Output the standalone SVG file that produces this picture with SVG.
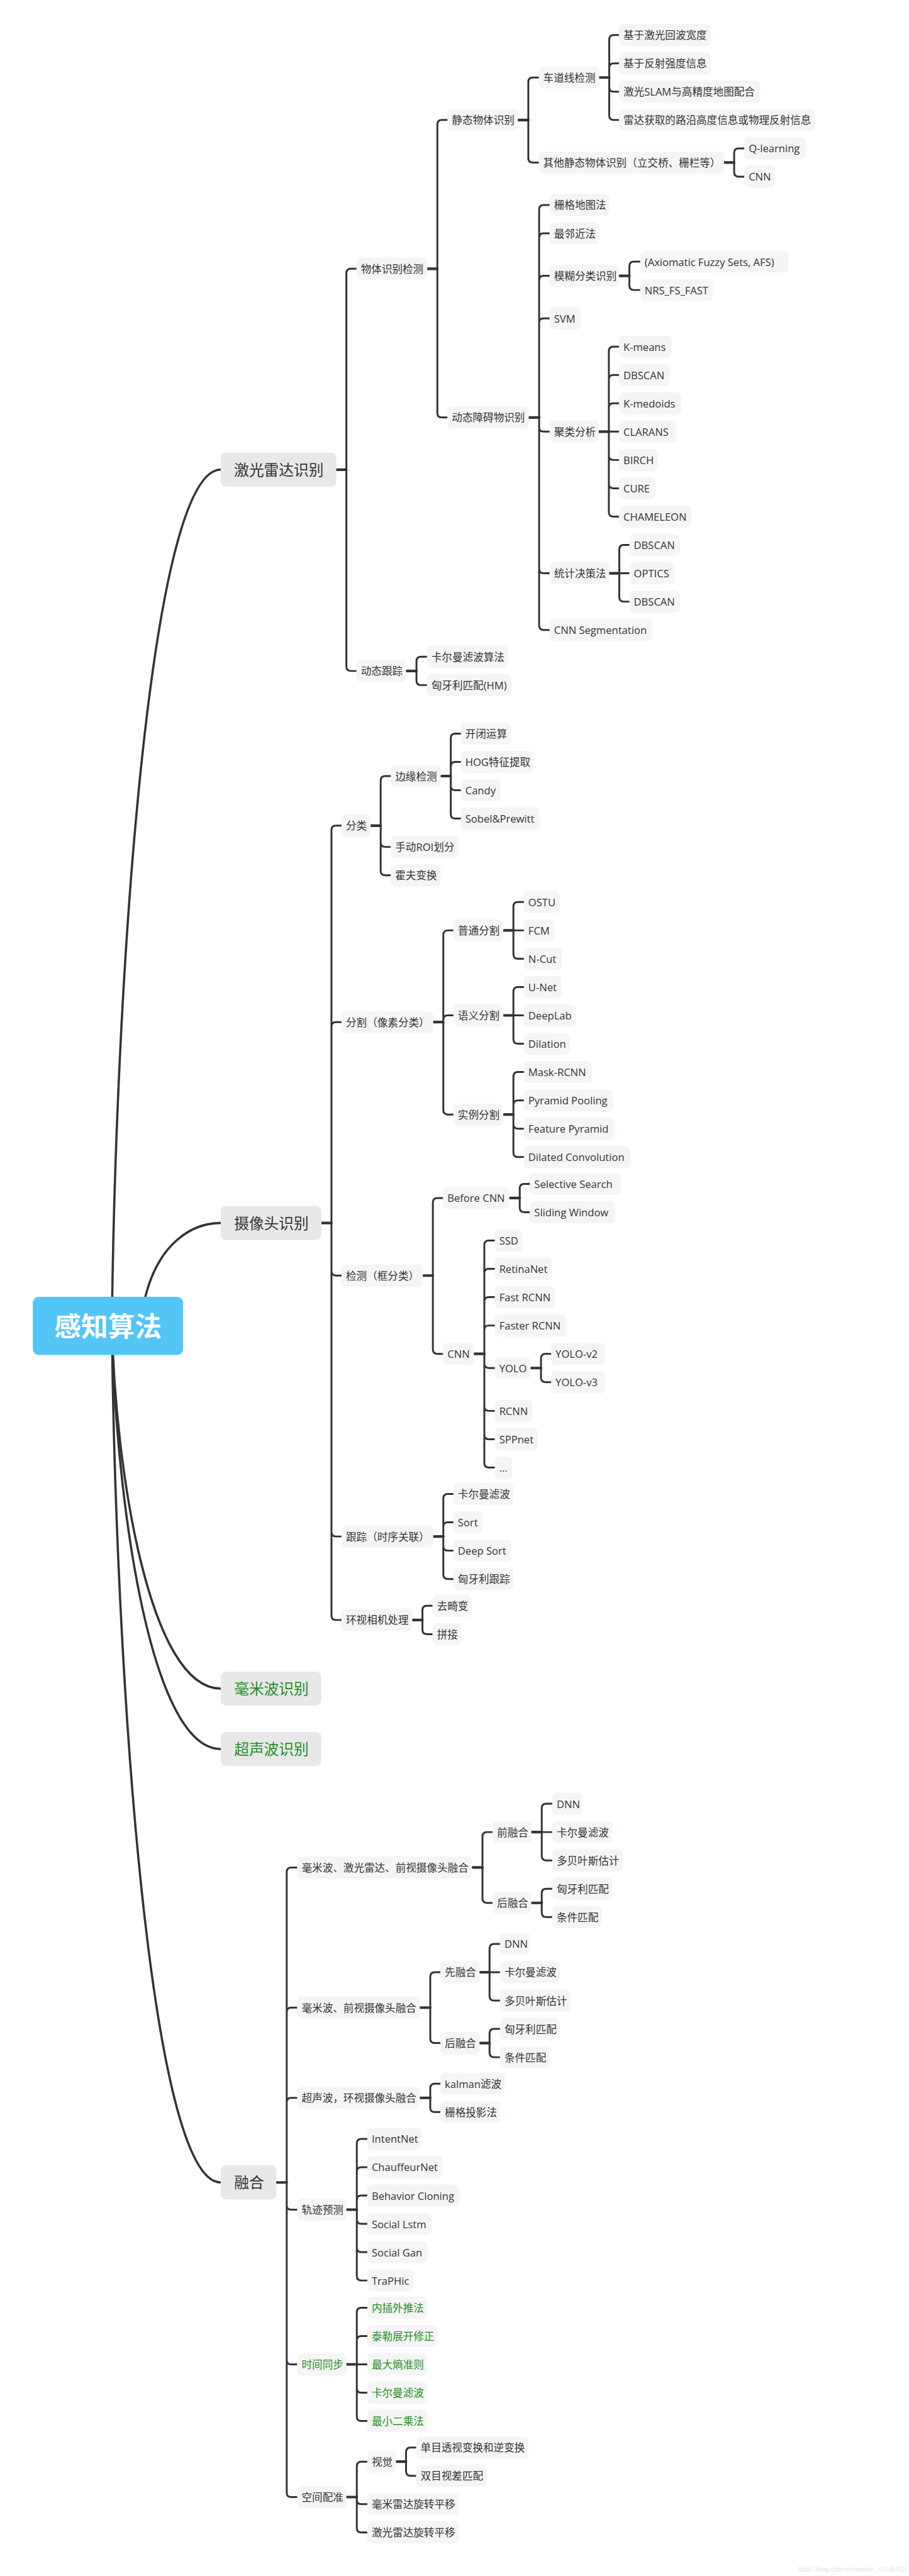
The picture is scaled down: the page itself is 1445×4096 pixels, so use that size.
<svg xmlns="http://www.w3.org/2000/svg" width="1445" height="4096" viewBox="0 0 1445 4096">
<style>
text{font-family:"Open Sans","Noto Sans CJK SC",sans-serif;dominant-baseline:central;fill:#333;font-size:28px}
.n rect{fill:#f5f5f5}
.L rect{fill:#e8e8e8}
.L text{font-size:40px}
.g text{fill:#1f8f1f}
.c path{fill:none;stroke:#333;stroke-width:5;stroke-linecap:round;stroke-linejoin:round}
.c path.s{stroke-width:7}
.c path.r{stroke-width:6}
</style>
<rect width="1445" height="4096" fill="#fff"/>
<g transform="scale(0.5927)">
<g id="connectors" class="c">
<path class="r" d="M300 3557C310 2638 400 1260 592 1260"/>
<path class="r" d="M385 3500C420 3330 520 3281 592 3281"/>
<path class="r" d="M300 3557C310 3946 400 4530 592 4530"/>
<path class="r" d="M300 3557C310 4011 400 4692 592 4692"/>
<path class="r" d="M300 3557C310 4476 400 5855 592 5855"/>
<path d="M929 1260V733Q929 721 941 721H956M929 1260V1788Q929 1800 941 1800H956"/>
<path d="M1173 721V334Q1173 322 1185 322H1200M1173 721V1108Q1173 1120 1185 1120H1200"/>
<path d="M1417 322V220Q1417 208 1429 208H1445M1417 322V424Q1417 436 1429 436H1445"/>
<path d="M1634 208V106Q1634 94 1646 94H1660M1634 208V182Q1634 170 1646 170H1660M1634 208V234Q1634 246 1646 246H1660M1634 208V310Q1634 322 1646 322H1660"/>
<path d="M1969 436V410Q1969 398 1981 398H1996M1969 436V462Q1969 474 1981 474H1996"/>
<path d="M1446 1120V562Q1446 550 1458 550H1474M1446 1120V638Q1446 626 1458 626H1474M1446 1120V752Q1446 740 1458 740H1474M1446 1120V866Q1446 854 1458 854H1474M1446 1120V1146Q1446 1158 1458 1158H1474M1446 1120V1526Q1446 1538 1458 1538H1474M1446 1120V1678Q1446 1690 1458 1690H1474"/>
<path d="M1688 740V714Q1688 702 1700 702H1717M1688 740V766Q1688 778 1700 778H1717"/>
<path d="M1633 1158H1660M1633 1158V942Q1633 930 1645 930H1660M1633 1158V1018Q1633 1006 1645 1006H1660M1633 1158V1094Q1633 1082 1645 1082H1660M1633 1158V1222Q1633 1234 1645 1234H1660M1633 1158V1298Q1633 1310 1645 1310H1660M1633 1158V1374Q1633 1386 1645 1386H1660"/>
<path d="M1661 1538H1688M1661 1538V1474Q1661 1462 1673 1462H1688M1661 1538V1602Q1661 1614 1673 1614H1688"/>
<path d="M1117 1800V1774Q1117 1762 1129 1762H1145M1117 1800V1826Q1117 1838 1129 1838H1145"/>
<path d="M889 3281V2227Q889 2215 901 2215H916M889 3281V2754Q889 2742 901 2742H916M889 3281V3410Q889 3422 901 3422H916M889 3281V4110Q889 4122 901 4122H916M889 3281V4334Q889 4346 901 4346H916"/>
<path d="M1021 2215V2094Q1021 2082 1033 2082H1048M1021 2215V2260Q1021 2272 1033 2272H1048M1021 2215V2336Q1021 2348 1033 2348H1048"/>
<path d="M1209 2082V1980Q1209 1968 1221 1968H1236M1209 2082V2056Q1209 2044 1221 2044H1236M1209 2082V2108Q1209 2120 1221 2120H1236M1209 2082V2184Q1209 2196 1221 2196H1236"/>
<path d="M1189 2742V2508Q1189 2496 1201 2496H1216M1189 2742V2736Q1189 2724 1201 2724H1216M1189 2742V2978Q1189 2990 1201 2990H1216"/>
<path d="M1377 2496H1405M1377 2496V2432Q1377 2420 1389 2420H1405M1377 2496V2560Q1377 2572 1389 2572H1405"/>
<path d="M1377 2724H1405M1377 2724V2660Q1377 2648 1389 2648H1405M1377 2724V2788Q1377 2800 1389 2800H1405"/>
<path d="M1377 2990V2888Q1377 2876 1389 2876H1405M1377 2990V2964Q1377 2952 1389 2952H1405M1377 2990V3016Q1377 3028 1389 3028H1405M1377 2990V3092Q1377 3104 1389 3104H1405"/>
<path d="M1161 3422V3226Q1161 3214 1173 3214H1188M1161 3422V3620Q1161 3632 1173 3632H1188"/>
<path d="M1394 3214V3188Q1394 3176 1406 3176H1421M1394 3214V3240Q1394 3252 1406 3252H1421"/>
<path d="M1299 3632V3340Q1299 3328 1311 3328H1327M1299 3632V3416Q1299 3404 1311 3404H1327M1299 3632V3492Q1299 3480 1311 3480H1327M1299 3632V3568Q1299 3556 1311 3556H1327M1299 3632V3658Q1299 3670 1311 3670H1327M1299 3632V3773Q1299 3785 1311 3785H1327M1299 3632V3849Q1299 3861 1311 3861H1327M1299 3632V3925Q1299 3937 1311 3937H1327"/>
<path d="M1451 3670V3644Q1451 3632 1463 3632H1478M1451 3670V3696Q1451 3708 1463 3708H1478"/>
<path d="M1189 4122V4020Q1189 4008 1201 4008H1216M1189 4122V4096Q1189 4084 1201 4084H1216M1189 4122V4148Q1189 4160 1201 4160H1216M1189 4122V4224Q1189 4236 1201 4236H1216"/>
<path d="M1133 4346V4320Q1133 4308 1145 4308H1160M1133 4346V4372Q1133 4384 1145 4384H1160"/>
<path d="M769 5855V5022Q769 5010 781 5010H797M769 5855V5398Q769 5386 781 5386H797M769 5855V5640Q769 5628 781 5628H797M769 5855V5916Q769 5928 781 5928H797M769 5855V6331Q769 6343 781 6343H797M769 5855V6687Q769 6699 781 6699H797"/>
<path d="M1294 5010V4927Q1294 4915 1306 4915H1321M1294 5010V5093Q1294 5105 1306 5105H1321"/>
<path d="M1453 4915H1481M1453 4915V4851Q1453 4839 1465 4839H1481M1453 4915V4979Q1453 4991 1465 4991H1481"/>
<path d="M1453 5105V5079Q1453 5067 1465 5067H1481M1453 5105V5131Q1453 5143 1465 5143H1481"/>
<path d="M1154 5386V5303Q1154 5291 1166 5291H1181M1154 5386V5469Q1154 5481 1166 5481H1181"/>
<path d="M1313 5291H1341M1313 5291V5227Q1313 5215 1325 5215H1341M1313 5291V5355Q1313 5367 1325 5367H1341"/>
<path d="M1313 5481V5455Q1313 5443 1325 5443H1341M1313 5481V5507Q1313 5519 1325 5519H1341"/>
<path d="M1154 5628V5602Q1154 5590 1166 5590H1181M1154 5628V5654Q1154 5666 1166 5666H1181"/>
<path d="M957 5928V5750Q957 5738 969 5738H985M957 5928V5826Q957 5814 969 5814H985M957 5928V5902Q957 5890 969 5890H985M957 5928V5954Q957 5966 969 5966H985M957 5928V6030Q957 6042 969 6042H985M957 5928V6106Q957 6118 969 6118H985"/>
<path d="M957 6343H985M957 6343V6203Q957 6191 969 6191H985M957 6343V6279Q957 6267 969 6267H985M957 6343V6407Q957 6419 969 6419H985M957 6343V6483Q957 6495 969 6495H985"/>
<path d="M957 6699V6616Q957 6604 969 6604H985M957 6699V6706Q957 6718 969 6718H985M957 6699V6782Q957 6794 969 6794H985"/>
<path d="M1089 6604V6578Q1089 6566 1101 6566H1116M1089 6604V6630Q1089 6642 1101 6642H1116"/>
<path class="s" d="M902 1260H929M1146 721H1173M1389 322H1417M1607 208H1634M1942 436H1969M1418 1120H1446M1660 740H1688M1606 1158H1633M1634 1538H1661M1089 1800H1117M862 3281H889M994 2215H1021M1182 2082H1209M1162 2742H1189M1350 2496H1377M1350 2724H1377M1350 2990H1377M1134 3422H1161M1366 3214H1394M1271 3632H1299M1423 3670H1451M1162 4122H1189M1106 4346H1133M741 5855H769M1266 5010H1294M1425 4915H1453M1425 5105H1453M1126 5386H1154M1286 5291H1313M1286 5481H1313M1126 5628H1154M929 5928H957M929 6343H957M929 6699H957M1062 6604H1089"/>
</g>
<g id="root"><rect x="88" y="3479" width="403" height="156" rx="16" fill="#53c5f7"/><text x="289.5" y="3557" text-anchor="middle" style="font-size:72px;font-weight:700;fill:#fff">感知算法</text></g>
<g id="n-lidar" class="L"><rect x="592" y="1214.5" width="310" height="91" rx="14"/><text x="628" y="1260">激光雷达识别</text></g>
<g id="n-camera" class="L"><rect x="592" y="3235.5" width="270" height="91" rx="14"/><text x="628" y="3281">摄像头识别</text></g>
<g id="n-mmwave" class="L g"><rect x="592" y="4484.5" width="270" height="91" rx="14"/><text x="628" y="4530">毫米波识别</text></g>
<g id="n-ultra" class="L g"><rect x="592" y="4646.5" width="270" height="91" rx="14"/><text x="628" y="4692">超声波识别</text></g>
<g id="n-fusion" class="L"><rect x="592" y="5809.5" width="149" height="91" rx="14"/><text x="628" y="5855">融合</text></g>
<g id="n-a1" class="n"><rect x="956" y="691.5" width="190" height="59" rx="12"/><text x="968" y="721">物体识别检测</text></g>
<g id="n-a2" class="n"><rect x="956" y="1770.5" width="133" height="59" rx="12"/><text x="968" y="1800">动态跟踪</text></g>
<g id="n-a11" class="n"><rect x="1200" y="292.5" width="189" height="59" rx="12"/><text x="1212" y="322">静态物体识别</text></g>
<g id="n-a12" class="n"><rect x="1200" y="1090.5" width="218" height="59" rx="12"/><text x="1212" y="1120">动态障碍物识别</text></g>
<g id="n-a111" class="n"><rect x="1445" y="178.5" width="162" height="59" rx="12"/><text x="1457" y="208">车道线检测</text></g>
<g id="n-a112" class="n"><rect x="1445" y="406.5" width="497" height="59" rx="12"/><text x="1457" y="436">其他静态物体识别（立交桥、栅栏等）</text></g>
<g id="n-a1111" class="n"><rect x="1660" y="64.5" width="246" height="59" rx="12"/><text x="1672" y="94">基于激光回波宽度</text></g>
<g id="n-a1112" class="n"><rect x="1660" y="140.5" width="246" height="59" rx="12"/><text x="1672" y="170">基于反射强度信息</text></g>
<g id="n-a1113" class="n"><rect x="1660" y="216.5" width="379" height="59" rx="12"/><text x="1672" y="246">激光SLAM与高精度地图配合</text></g>
<g id="n-a1114" class="n"><rect x="1660" y="292.5" width="525" height="59" rx="12"/><text x="1672" y="322">雷达获取的路沿高度信息或物理反射信息</text></g>
<g id="n-a1121" class="n"><rect x="1996" y="368.5" width="165" height="59" rx="12"/><text x="2008" y="398">Q-learning</text></g>
<g id="n-a1122" class="n"><rect x="1996" y="444.5" width="83" height="59" rx="12"/><text x="2008" y="474">CNN</text></g>
<g id="n-a121" class="n"><rect x="1474" y="520.5" width="160" height="59" rx="12"/><text x="1486" y="550">栅格地图法</text></g>
<g id="n-a122" class="n"><rect x="1474" y="596.5" width="132" height="59" rx="12"/><text x="1486" y="626">最邻近法</text></g>
<g id="n-a123" class="n"><rect x="1474" y="710.5" width="186" height="59" rx="12"/><text x="1486" y="740">模糊分类识别</text></g>
<g id="n-a1231" class="n"><rect x="1717" y="672.5" width="398" height="59" rx="12"/><text x="1729" y="702">(Axiomatic Fuzzy Sets, AFS)</text></g>
<g id="n-a1232" class="n"><rect x="1717" y="748.5" width="195" height="59" rx="12"/><text x="1729" y="778">NRS_FS_FAST</text></g>
<g id="n-a124" class="n"><rect x="1474" y="824.5" width="84" height="59" rx="12"/><text x="1486" y="854">SVM</text></g>
<g id="n-a125" class="n"><rect x="1474" y="1128.5" width="132" height="59" rx="12"/><text x="1486" y="1158">聚类分析</text></g>
<g id="n-a1251" class="n"><rect x="1660" y="900.5" width="142" height="59" rx="12"/><text x="1672" y="930">K-means</text></g>
<g id="n-a1252" class="n"><rect x="1660" y="976.5" width="136" height="59" rx="12"/><text x="1672" y="1006">DBSCAN</text></g>
<g id="n-a1253" class="n"><rect x="1660" y="1052.5" width="167" height="59" rx="12"/><text x="1672" y="1082">K-medoids</text></g>
<g id="n-a1254" class="n"><rect x="1660" y="1128.5" width="153" height="59" rx="12"/><text x="1672" y="1158">CLARANS</text></g>
<g id="n-a1255" class="n"><rect x="1660" y="1204.5" width="104" height="59" rx="12"/><text x="1672" y="1234">BIRCH</text></g>
<g id="n-a1256" class="n"><rect x="1660" y="1280.5" width="97" height="59" rx="12"/><text x="1672" y="1310">CURE</text></g>
<g id="n-a1257" class="n"><rect x="1660" y="1356.5" width="195" height="59" rx="12"/><text x="1672" y="1386">CHAMELEON</text></g>
<g id="n-a126" class="n"><rect x="1474" y="1508.5" width="160" height="59" rx="12"/><text x="1486" y="1538">统计决策法</text></g>
<g id="n-a1261" class="n"><rect x="1688" y="1432.5" width="136" height="59" rx="12"/><text x="1700" y="1462">DBSCAN</text></g>
<g id="n-a1262" class="n"><rect x="1688" y="1508.5" width="122" height="59" rx="12"/><text x="1700" y="1538">OPTICS</text></g>
<g id="n-a1263" class="n"><rect x="1688" y="1584.5" width="136" height="59" rx="12"/><text x="1700" y="1614">DBSCAN</text></g>
<g id="n-a127" class="n"><rect x="1474" y="1660.5" width="275" height="59" rx="12"/><text x="1486" y="1690">CNN Segmentation</text></g>
<g id="n-a21" class="n"><rect x="1145" y="1732.5" width="217" height="59" rx="12"/><text x="1157" y="1762">卡尔曼滤波算法</text></g>
<g id="n-a22" class="n"><rect x="1145" y="1808.5" width="227" height="59" rx="12"/><text x="1157" y="1838">匈牙利匹配(HM)</text></g>
<g id="n-b1" class="n"><rect x="916" y="2185.5" width="78" height="59" rx="12"/><text x="928" y="2215">分类</text></g>
<g id="n-b11" class="n"><rect x="1048" y="2052.5" width="134" height="59" rx="12"/><text x="1060" y="2082">边缘检测</text></g>
<g id="n-b111" class="n"><rect x="1236" y="1938.5" width="134" height="59" rx="12"/><text x="1248" y="1968">开闭运算</text></g>
<g id="n-b112" class="n"><rect x="1236" y="2014.5" width="195" height="59" rx="12"/><text x="1248" y="2044">HOG特征提取</text></g>
<g id="n-b113" class="n"><rect x="1236" y="2090.5" width="107" height="59" rx="12"/><text x="1248" y="2120">Candy</text></g>
<g id="n-b114" class="n"><rect x="1236" y="2166.5" width="212" height="59" rx="12"/><text x="1248" y="2196">Sobel&amp;Prewitt</text></g>
<g id="n-b12" class="n"><rect x="1048" y="2242.5" width="182" height="59" rx="12"/><text x="1060" y="2272">手动ROI划分</text></g>
<g id="n-b13" class="n"><rect x="1048" y="2318.5" width="134" height="59" rx="12"/><text x="1060" y="2348">霍夫变换</text></g>
<g id="n-b2" class="n"><rect x="916" y="2712.5" width="246" height="59" rx="12"/><text x="928" y="2742">分割（像素分类）</text></g>
<g id="n-b21" class="n"><rect x="1216" y="2466.5" width="134" height="59" rx="12"/><text x="1228" y="2496">普通分割</text></g>
<g id="n-b211" class="n"><rect x="1405" y="2390.5" width="96" height="59" rx="12"/><text x="1417" y="2420">OSTU</text></g>
<g id="n-b212" class="n"><rect x="1405" y="2466.5" width="81" height="59" rx="12"/><text x="1417" y="2496">FCM</text></g>
<g id="n-b213" class="n"><rect x="1405" y="2542.5" width="102" height="59" rx="12"/><text x="1417" y="2572">N-Cut</text></g>
<g id="n-b22" class="n"><rect x="1216" y="2694.5" width="134" height="59" rx="12"/><text x="1228" y="2724">语义分割</text></g>
<g id="n-b221" class="n"><rect x="1405" y="2618.5" width="101" height="59" rx="12"/><text x="1417" y="2648">U-Net</text></g>
<g id="n-b222" class="n"><rect x="1405" y="2694.5" width="140" height="59" rx="12"/><text x="1417" y="2724">DeepLab</text></g>
<g id="n-b223" class="n"><rect x="1405" y="2770.5" width="124" height="59" rx="12"/><text x="1417" y="2800">Dilation</text></g>
<g id="n-b23" class="n"><rect x="1216" y="2960.5" width="134" height="59" rx="12"/><text x="1228" y="2990">实例分割</text></g>
<g id="n-b231" class="n"><rect x="1405" y="2846.5" width="183" height="59" rx="12"/><text x="1417" y="2876">Mask-RCNN</text></g>
<g id="n-b232" class="n"><rect x="1405" y="2922.5" width="239" height="59" rx="12"/><text x="1417" y="2952">Pyramid Pooling</text></g>
<g id="n-b233" class="n"><rect x="1405" y="2998.5" width="242" height="59" rx="12"/><text x="1417" y="3028">Feature Pyramid</text></g>
<g id="n-b234" class="n"><rect x="1405" y="3074.5" width="285" height="59" rx="12"/><text x="1417" y="3104">Dilated Convolution</text></g>
<g id="n-b3" class="n"><rect x="916" y="3392.5" width="218" height="59" rx="12"/><text x="928" y="3422">检测（框分类）</text></g>
<g id="n-b31" class="n"><rect x="1188" y="3184.5" width="178" height="59" rx="12"/><text x="1200" y="3214">Before CNN</text></g>
<g id="n-b311" class="n"><rect x="1421" y="3146.5" width="245" height="59" rx="12"/><text x="1433" y="3176">Selective Search</text></g>
<g id="n-b312" class="n"><rect x="1421" y="3222.5" width="228" height="59" rx="12"/><text x="1433" y="3252">Sliding Window</text></g>
<g id="n-b32" class="n"><rect x="1188" y="3602.5" width="83" height="59" rx="12"/><text x="1200" y="3632">CNN</text></g>
<g id="n-b321" class="n"><rect x="1327" y="3298.5" width="74" height="59" rx="12"/><text x="1339" y="3328">SSD</text></g>
<g id="n-b322" class="n"><rect x="1327" y="3374.5" width="153" height="59" rx="12"/><text x="1339" y="3404">RetinaNet</text></g>
<g id="n-b323" class="n"><rect x="1327" y="3450.5" width="162" height="59" rx="12"/><text x="1339" y="3480">Fast RCNN</text></g>
<g id="n-b324" class="n"><rect x="1327" y="3526.5" width="191" height="59" rx="12"/><text x="1339" y="3556">Faster RCNN</text></g>
<g id="n-b325" class="n"><rect x="1327" y="3640.5" width="96" height="59" rx="12"/><text x="1339" y="3670">YOLO</text></g>
<g id="n-b3251" class="n"><rect x="1478" y="3602.5" width="145" height="59" rx="12"/><text x="1490" y="3632">YOLO-v2</text></g>
<g id="n-b3252" class="n"><rect x="1478" y="3678.5" width="145" height="59" rx="12"/><text x="1490" y="3708">YOLO-v3</text></g>
<g id="n-b326" class="n"><rect x="1327" y="3755.5" width="101" height="59" rx="12"/><text x="1339" y="3785">RCNN</text></g>
<g id="n-b327" class="n"><rect x="1327" y="3831.5" width="116" height="59" rx="12"/><text x="1339" y="3861">SPPnet</text></g>
<g id="n-b328" class="n"><rect x="1327" y="3907.5" width="47" height="59" rx="12"/><text x="1339" y="3937">...</text></g>
<g id="n-b4" class="n"><rect x="916" y="4092.5" width="246" height="59" rx="12"/><text x="928" y="4122">跟踪（时序关联）</text></g>
<g id="n-b41" class="n"><rect x="1216" y="3978.5" width="161" height="59" rx="12"/><text x="1228" y="4008">卡尔曼滤波</text></g>
<g id="n-b42" class="n"><rect x="1216" y="4054.5" width="78" height="59" rx="12"/><text x="1228" y="4084">Sort</text></g>
<g id="n-b43" class="n"><rect x="1216" y="4130.5" width="156" height="59" rx="12"/><text x="1228" y="4160">Deep Sort</text></g>
<g id="n-b44" class="n"><rect x="1216" y="4206.5" width="161" height="59" rx="12"/><text x="1228" y="4236">匈牙利跟踪</text></g>
<g id="n-b5" class="n"><rect x="916" y="4316.5" width="190" height="59" rx="12"/><text x="928" y="4346">环视相机处理</text></g>
<g id="n-b51" class="n"><rect x="1160" y="4278.5" width="105" height="59" rx="12"/><text x="1172" y="4308">去畸变</text></g>
<g id="n-b52" class="n"><rect x="1160" y="4354.5" width="78" height="59" rx="12"/><text x="1172" y="4384">拼接</text></g>
<g id="n-c1" class="n"><rect x="797" y="4980.5" width="469" height="59" rx="12"/><text x="809" y="5010">毫米波、激光雷达、前视摄像头融合</text></g>
<g id="n-c11" class="n"><rect x="1321" y="4885.5" width="104" height="59" rx="12"/><text x="1333" y="4915">前融合</text></g>
<g id="n-c111" class="n"><rect x="1481" y="4809.5" width="80" height="59" rx="12"/><text x="1493" y="4839">DNN</text></g>
<g id="n-c112" class="n"><rect x="1481" y="4885.5" width="161" height="59" rx="12"/><text x="1493" y="4915">卡尔曼滤波</text></g>
<g id="n-c113" class="n"><rect x="1481" y="4961.5" width="190" height="59" rx="12"/><text x="1493" y="4991">多贝叶斯估计</text></g>
<g id="n-c12" class="n"><rect x="1321" y="5075.5" width="104" height="59" rx="12"/><text x="1333" y="5105">后融合</text></g>
<g id="n-c121" class="n"><rect x="1481" y="5037.5" width="161" height="59" rx="12"/><text x="1493" y="5067">匈牙利匹配</text></g>
<g id="n-c122" class="n"><rect x="1481" y="5113.5" width="133" height="59" rx="12"/><text x="1493" y="5143">条件匹配</text></g>
<g id="n-c2" class="n"><rect x="797" y="5356.5" width="329" height="59" rx="12"/><text x="809" y="5386">毫米波、前视摄像头融合</text></g>
<g id="n-c21" class="n"><rect x="1181" y="5261.5" width="105" height="59" rx="12"/><text x="1193" y="5291">先融合</text></g>
<g id="n-c211" class="n"><rect x="1341" y="5185.5" width="81" height="59" rx="12"/><text x="1353" y="5215">DNN</text></g>
<g id="n-c212" class="n"><rect x="1341" y="5261.5" width="160" height="59" rx="12"/><text x="1353" y="5291">卡尔曼滤波</text></g>
<g id="n-c213" class="n"><rect x="1341" y="5337.5" width="189" height="59" rx="12"/><text x="1353" y="5367">多贝叶斯估计</text></g>
<g id="n-c22" class="n"><rect x="1181" y="5451.5" width="105" height="59" rx="12"/><text x="1193" y="5481">后融合</text></g>
<g id="n-c221" class="n"><rect x="1341" y="5413.5" width="160" height="59" rx="12"/><text x="1353" y="5443">匈牙利匹配</text></g>
<g id="n-c222" class="n"><rect x="1341" y="5489.5" width="133" height="59" rx="12"/><text x="1353" y="5519">条件匹配</text></g>
<g id="n-c3" class="n"><rect x="797" y="5598.5" width="329" height="59" rx="12"/><text x="809" y="5628">超声波，环视摄像头融合</text></g>
<g id="n-c31" class="n"><rect x="1181" y="5560.5" width="173" height="59" rx="12"/><text x="1193" y="5590">kalman滤波</text></g>
<g id="n-c32" class="n"><rect x="1181" y="5636.5" width="160" height="59" rx="12"/><text x="1193" y="5666">栅格投影法</text></g>
<g id="n-c4" class="n"><rect x="797" y="5898.5" width="132" height="59" rx="12"/><text x="809" y="5928">轨迹预测</text></g>
<g id="n-c41" class="n"><rect x="985" y="5708.5" width="145" height="59" rx="12"/><text x="997" y="5738">IntentNet</text></g>
<g id="n-c42" class="n"><rect x="985" y="5784.5" width="202" height="59" rx="12"/><text x="997" y="5814">ChauffeurNet</text></g>
<g id="n-c43" class="n"><rect x="985" y="5860.5" width="248" height="59" rx="12"/><text x="997" y="5890">Behavior Cloning</text></g>
<g id="n-c44" class="n"><rect x="985" y="5936.5" width="173" height="59" rx="12"/><text x="997" y="5966">Social Lstm</text></g>
<g id="n-c45" class="n"><rect x="985" y="6012.5" width="162" height="59" rx="12"/><text x="997" y="6042">Social Gan</text></g>
<g id="n-c46" class="n"><rect x="985" y="6088.5" width="123" height="59" rx="12"/><text x="997" y="6118">TraPHic</text></g>
<g id="n-c5" class="n g"><rect x="797" y="6313.5" width="132" height="59" rx="12"/><text x="809" y="6343">时间同步</text></g>
<g id="n-c51" class="n g"><rect x="985" y="6161.5" width="160" height="59" rx="12"/><text x="997" y="6191">内插外推法</text></g>
<g id="n-c52" class="n g"><rect x="985" y="6237.5" width="189" height="59" rx="12"/><text x="997" y="6267">泰勒展开修正</text></g>
<g id="n-c53" class="n g"><rect x="985" y="6313.5" width="160" height="59" rx="12"/><text x="997" y="6343">最大熵准则</text></g>
<g id="n-c54" class="n g"><rect x="985" y="6389.5" width="160" height="59" rx="12"/><text x="997" y="6419">卡尔曼滤波</text></g>
<g id="n-c55" class="n g"><rect x="985" y="6465.5" width="160" height="59" rx="12"/><text x="997" y="6495">最小二乘法</text></g>
<g id="n-c6" class="n"><rect x="797" y="6669.5" width="132" height="59" rx="12"/><text x="809" y="6699">空间配准</text></g>
<g id="n-c61" class="n"><rect x="985" y="6574.5" width="77" height="59" rx="12"/><text x="997" y="6604">视觉</text></g>
<g id="n-c611" class="n"><rect x="1116" y="6536.5" width="301" height="59" rx="12"/><text x="1128" y="6566">单目透视变换和逆变换</text></g>
<g id="n-c612" class="n"><rect x="1116" y="6612.5" width="189" height="59" rx="12"/><text x="1128" y="6642">双目视差匹配</text></g>
<g id="n-c62" class="n"><rect x="985" y="6688.5" width="245" height="59" rx="12"/><text x="997" y="6718">毫米雷达旋转平移</text></g>
<g id="n-c63" class="n"><rect x="985" y="6764.5" width="245" height="59" rx="12"/><text x="997" y="6794">激光雷达旋转平移</text></g>
<text x="2429" y="6893" text-anchor="end" style="font-family:'Liberation Sans',sans-serif;font-size:17px;fill:#e4e4e4">https://blog.csdn.net/weixin_44145782</text>
</g>
</svg>
